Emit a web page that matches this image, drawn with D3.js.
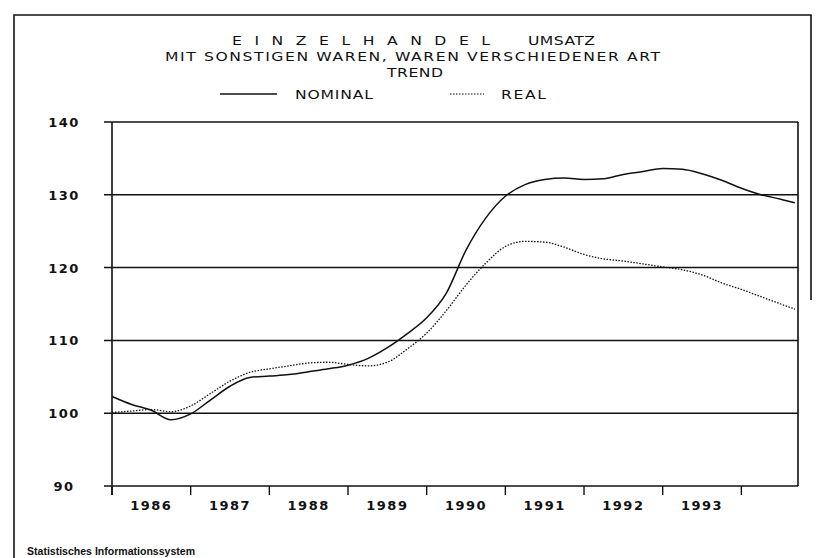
<!DOCTYPE html>
<html>
<head>
<meta charset="utf-8">
<script src="https://cdn.jsdelivr.net/npm/d3@7"></script>
<style>
  body { margin: 0; background: #fff; }
  svg text { fill: #111; }
</style>
</head>
<body>
<svg id="chart" width="820" height="558"></svg>
<script>
// time points (decimal years, quarterly)
const timePoints = [1986.0, 1986.25, 1986.5, 1986.75, 1987.0, 1987.25, 1987.5, 1987.75,
  1988.0, 1988.25, 1988.5, 1988.75, 1989.0, 1989.25, 1989.5, 1989.75,
  1990.0, 1990.25, 1990.5, 1990.75, 1991.0, 1991.25, 1991.5, 1991.75,
  1992.0, 1992.25, 1992.5, 1992.75, 1993.0, 1993.25, 1993.5, 1993.75,
  1994.0, 1994.25, 1994.5, 1994.68];
const nominal = [102.3, 101.2, 100.4, 99.1, 99.9, 101.8, 103.7, 104.9,
  105.1, 105.3, 105.7, 106.1, 106.6, 107.5, 109.0, 110.9,
  113.1, 116.5, 122.4, 126.8, 129.8, 131.4, 132.1, 132.3,
  132.1, 132.2, 132.8, 133.2, 133.6, 133.5, 132.9, 132.0,
  130.9, 130.0, 129.4, 128.9];
const real = [100.1, 100.3, 100.5, 100.2, 101.0, 102.7, 104.4, 105.6,
  106.1, 106.5, 106.9, 107.0, 106.7, 106.5, 107.0, 108.8,
  111.0, 114.1, 117.6, 120.6, 122.9, 123.6, 123.5, 122.8,
  121.8, 121.2, 120.9, 120.5, 120.1, 119.7, 119.0, 117.9,
  117.0, 116.0, 115.0, 114.3];
const yTicks = [90, 100, 110, 120, 130, 140];
const yearTicks = [1986, 1987, 1988, 1989, 1990, 1991, 1992, 1993, 1994];
const yearLabels = ["1986", "1987", "1988", "1989", "1990", "1991", "1992", "1993"];
const seriesNames = ["NOMINAL", "REAL"];

const svg = d3.select('#chart');
const ink = '#111';
const plotFont = '"DejaVu Sans", sans-serif';
const stretch = 1.2; // plotter lettering is wider than DejaVu

const x = d3.scaleLinear().domain([1986, 1994.72]).range([112, 798]);
const y = d3.scaleLinear().domain([90, 140]).range([486, 122]);

// outer frame (open at the right bottom like the scan)
svg.append('path')
  .attr('d', 'M14,558 L14,15 L811,15 L811,300')
  .attr('fill', 'none').attr('stroke', ink).attr('stroke-width', 1.6);

// title block, drawn in a horizontally stretched group
const title = svg.append('g')
  .attr('transform', `scale(${stretch},1)`)
  .attr('font-family', plotFont).attr('font-size', 13);

function wideText(g, str, x0, x1, yy) {
  g.append('text').attr('x', x0 / stretch).attr('y', yy)
    .attr('textLength', (x1 - x0) / stretch).attr('lengthAdjust', 'spacing')
    .text(str);
}
wideText(title, 'E I N Z E L H A N D E L', 232, 490, 45);
wideText(title, 'UMSATZ', 528, 595, 45);
wideText(title, 'MIT SONSTIGEN WAREN, WAREN VERSCHIEDENER ART', 165, 660, 61);
wideText(title, 'TREND', 387, 443, 77);

// legend
wideText(title, seriesNames[0], 295, 373, 99);
wideText(title, seriesNames[1], 501, 546, 99);
svg.append('line').attr('x1', 220).attr('x2', 277).attr('y1', 94).attr('y2', 94)
  .attr('stroke', ink).attr('stroke-width', 1.4);
svg.append('line').attr('x1', 450).attr('x2', 484).attr('y1', 94).attr('y2', 94)
  .attr('stroke', ink).attr('stroke-width', 1.2).attr('stroke-dasharray', '1.5,1.5');

// horizontal grid lines incl. top border
const grid = svg.append('g');
grid.selectAll('line').data(yTicks).join('line')
  .attr('x1', 104).attr('x2', x.range()[1])
  .attr('y1', d => y(d)).attr('y2', d => y(d))
  .attr('stroke', ink).attr('stroke-width', 1.5);

// left and right plot borders
svg.append('line').attr('x1', x(1986)).attr('x2', x(1986))
  .attr('y1', y(140)).attr('y2', y(90) + 9)
  .attr('stroke', ink).attr('stroke-width', 1.6);
svg.append('line').attr('x1', x.range()[1]).attr('x2', x.range()[1])
  .attr('y1', y(140)).attr('y2', y(90))
  .attr('stroke', ink).attr('stroke-width', 1.6);

// y labels
svg.append('g').attr('font-family', plotFont).attr('font-size', 13).attr('font-weight', 'bold')
  .selectAll('text').data(yTicks).join('text')
  .attr('x', 64).attr('y', d => y(d) + 5)
  .attr('text-anchor', 'middle').attr('letter-spacing', 1.5)
  .text(d => d);

// x ticks at year boundaries
svg.append('g').selectAll('line').data(yearTicks).join('line')
  .attr('x1', d => x(d)).attr('x2', d => x(d))
  .attr('y1', y(90)).attr('y2', y(90) + 9)
  .attr('stroke', ink).attr('stroke-width', 1.4);

svg.append('g').attr('font-family', plotFont).attr('font-size', 13).attr('font-weight', 'bold')
  .selectAll('text').data(yearLabels).join('text')
  .attr('x', d => x(+d + 0.5)).attr('y', 510)
  .attr('text-anchor', 'middle').attr('letter-spacing', 1.5)
  .text(d => d);

// curves
const line = d3.line().curve(d3.curveMonotoneX)
  .x((d, i) => x(timePoints[i])).y(d => y(d));

svg.append('path').datum(nominal)
  .attr('d', line).attr('fill', 'none')
  .attr('stroke', ink).attr('stroke-width', 1.5);
svg.append('path').datum(real)
  .attr('d', line).attr('fill', 'none')
  .attr('stroke', ink).attr('stroke-width', 1.3).attr('stroke-dasharray', '1.5,1.5');

// footer
svg.append('text').attr('x', 27).attr('y', 555)
  .attr('font-family', '"Liberation Sans", Arial, sans-serif')
  .attr('font-size', 10).attr('font-weight', 'bold')
  .attr('textLength', 168).attr('lengthAdjust', 'spacingAndGlyphs')
  .text('Statistisches Informationssystem');
</script>
</body>
</html>
